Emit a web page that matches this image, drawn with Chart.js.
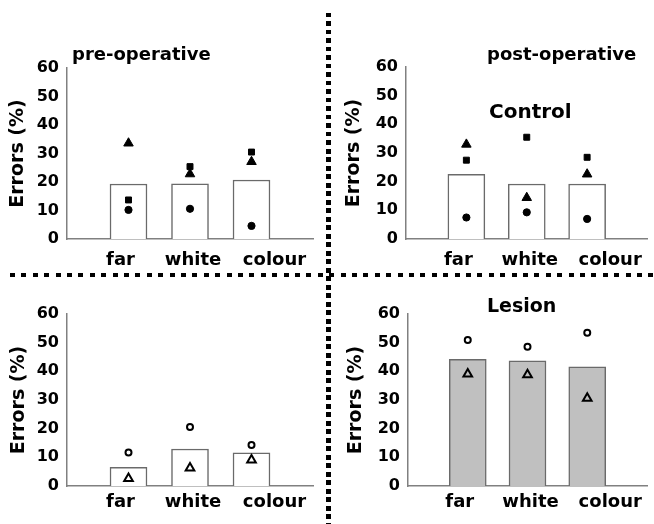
<!DOCTYPE html>
<html>
<head>
<meta charset="utf-8">
<title>Errors (%) - pre/post-operative</title>
<script src="https://cdn.jsdelivr.net/npm/chart.js"></script>
<style>
    body { margin: 0; background: #fff; }
    #page { position: relative; width: 654px; height: 524px; overflow: hidden;
            font-family: "DejaVu Sans", sans-serif; font-weight: bold; }
    canvas { position: absolute; }
    .label { position: absolute; line-height: 1; white-space: nowrap; color: #000; }
    .sep { position: absolute; }
</style>
</head>
<body>
<div id="page">
    <canvas id="preControl" width="330" height="270" style="left:0;top:0"></canvas>
    <canvas id="postControl" width="324" height="270" style="left:330px;top:0"></canvas>
    <canvas id="preLesion" width="330" height="254" style="left:0;top:270px"></canvas>
    <canvas id="postLesion" width="324" height="254" style="left:330px;top:270px"></canvas>

    <div class="label" style="left:72px;top:45px;font-size:18px">pre-operative</div>
    <div class="label" style="left:487px;top:45px;font-size:18px">post-operative</div>
    <div class="label" style="left:489px;top:101px;font-size:20px">Control</div>
    <div class="label" style="left:487px;top:296px;font-size:19px">Lesion</div>

    <div class="sep" style="left:326px;top:13px;width:5px;height:511px;background:repeating-linear-gradient(to bottom,#000 0 4.5px,transparent 4.5px 8.5px)"></div>
    <div class="sep" style="left:10px;top:273px;width:644px;height:4px;background:repeating-linear-gradient(to right,#000 0 5px,transparent 5px 11.4px)"></div>
</div>

<script>
//---------------------------------------------
// DATA
//---------------------------------------------
const categories = ["far", "white", "colour"];
const yMin = 0, yMax = 60, yStep = 10;
const yTitle = "Errors (%)";

// pre-operative, control
const preControlMean = [19.3, 19.4, 20.7];
const preControlTri  = [33.6, 22.8, 27.1];
const preControlSq   = [13.7, 25.4, 30.5];
const preControlDot  = [10.2, 10.6, 4.6];

// post-operative, control
const postControlMean = [22.6, 19.2, 19.2];
const postControlTri  = [33.0, 14.4, 22.6];
const postControlSq   = [27.5, 35.5, 28.5];
const postControlDot  = [7.5, 9.3, 7.0];

// pre-operative, lesion
const preLesionMean   = [6.5, 12.9, 11.6];
const preLesionCircle = [11.7, 20.6, 14.3];
const preLesionTri    = [2.6, 6.3, 9.1];

// post-operative, lesion
const postLesionMean   = [44.2, 43.7, 41.6];
const postLesionCircle = [50.9, 48.6, 53.5];
const postLesionTri    = [39.1, 38.8, 30.6];

// empty slot at each end of the x axis
const pad = v => [null, ...v, null];
const xLabels = pad(categories).map(c => c || "");

// the category names sit a little off the bar centres in the original
const labelNudge = [-8, 3, 23];

//---------------------------------------------
// MARKER STYLES
//---------------------------------------------
const filledTri = { pointStyle: "triangle", pointRadius: 5.5, pointBackgroundColor: "#000", pointBorderColor: "#000", pointBorderWidth: 1 };
const filledSq  = { pointStyle: "rect", pointRadius: 4.2, pointBackgroundColor: "#000", pointBorderColor: "#000", pointBorderWidth: 1 };
const filledDot = { pointStyle: "circle", pointRadius: 3.6, pointBackgroundColor: "#000", pointBorderColor: "#000", pointBorderWidth: 1 };
const openCircle = { pointStyle: "circle", pointRadius: 3, pointBackgroundColor: "rgba(0,0,0,0)", pointBorderColor: "#000", pointBorderWidth: 2 };
const openTri    = { pointStyle: "triangle", pointRadius: 5, pointBackgroundColor: "rgba(0,0,0,0)", pointBorderColor: "#000", pointBorderWidth: 2 };

//---------------------------------------------
// CATEGORY LABELS UNDER THE X AXIS
//---------------------------------------------
const categoryLabels = {
    id: "categoryLabels",
    afterDraw(chart, args, opts) {
        const x = chart.scales.x;
        const ctx = chart.ctx;
        ctx.save();
        ctx.font = "bold 18px 'DejaVu Sans'";
        ctx.fillStyle = "#000";
        ctx.textAlign = "center";
        ctx.textBaseline = "alphabetic";
        categories.forEach((c, i) => {
            ctx.fillText(c, x.getPixelForValue(i + 1) + labelNudge[i], x.top + opts.baseline);
        });
        ctx.restore();
    }
};

//---------------------------------------------
// BUILD ONE PANEL
//---------------------------------------------
function makePanel(id, p) {
    const ctx = document.getElementById(id).getContext("2d");

    let datasets = p.markers.map(m => Object.assign({
        type: "line",
        data: pad(m.data),
        showLine: false,
        order: 1
    }, m.style));

    datasets.push({
        type: "bar",
        data: pad(p.bars),
        backgroundColor: p.fill,
        borderColor: "#6a6a6a",
        borderWidth: 1.5,
        barThickness: 37,
        order: 10
    });

    return new Chart(ctx, {
        type: "bar",
        data: { labels: xLabels, datasets },
        plugins: [categoryLabels],
        options: {
            responsive: false,
            animation: false,
            events: [],
            layout: { padding: { top: p.top, right: p.right, left: 0, bottom: 0 } },
            plugins: {
                legend: { display: false },
                tooltip: { enabled: false },
                categoryLabels: { baseline: p.labelBase }
            },
            scales: {
                x: {
                    offset: false,
                    grid: { display: false, drawTicks: false },
                    border: { display: true, color: "#808080", width: 1.5 },
                    ticks: { display: false },
                    afterFit: s => { s.height = p.xHeight; }
                },
                y: {
                    min: yMin, max: yMax,
                    grid: { display: false, drawTicks: false },
                    border: { display: true, color: "#808080", width: 1.5 },
                    ticks: {
                        stepSize: yStep, color: "#000", padding: 8,
                        font: { family: "DejaVu Sans", size: 16, weight: "bold" }
                    },
                    title: {
                        display: true, text: yTitle, color: "#000",
                        padding: { top: p.titlePad, bottom: 0 },
                        font: { family: "DejaVu Sans", size: 19, weight: "bold" }
                    },
                    afterFit: s => { s.width = p.yWidth; }
                }
            }
        }
    });
}

//---------------------------------------------
// INIT
//---------------------------------------------
makePanel("preControl", {
    bars: preControlMean, fill: "#fff",
    markers: [
        { data: preControlTri, style: filledTri },
        { data: preControlSq, style: filledSq },
        { data: preControlDot, style: filledDot }
    ],
    top: 68, right: 17, yWidth: 67, xHeight: 31, labelBase: 26, titlePad: 7
});

makePanel("postControl", {
    bars: postControlMean, fill: "#fff",
    markers: [
        { data: postControlTri, style: filledTri },
        { data: postControlSq, style: filledSq },
        { data: postControlDot, style: filledDot }
    ],
    top: 67, right: 1, yWidth: 76, xHeight: 31, labelBase: 26, titlePad: 13
});

makePanel("preLesion", {
    bars: preLesionMean, fill: "#fff",
    markers: [
        { data: preLesionCircle, style: openCircle },
        { data: preLesionTri, style: openTri }
    ],
    top: 44, right: 17, yWidth: 67, xHeight: 38, labelBase: 21, titlePad: 8
});

makePanel("postLesion", {
    bars: postLesionMean, fill: "#c0c0c0",
    markers: [
        { data: postLesionCircle, style: openCircle },
        { data: postLesionTri, style: openTri }
    ],
    top: 44, right: 0, yWidth: 78, xHeight: 38, labelBase: 21, titlePad: 15
});
</script>
</body>
</html>
